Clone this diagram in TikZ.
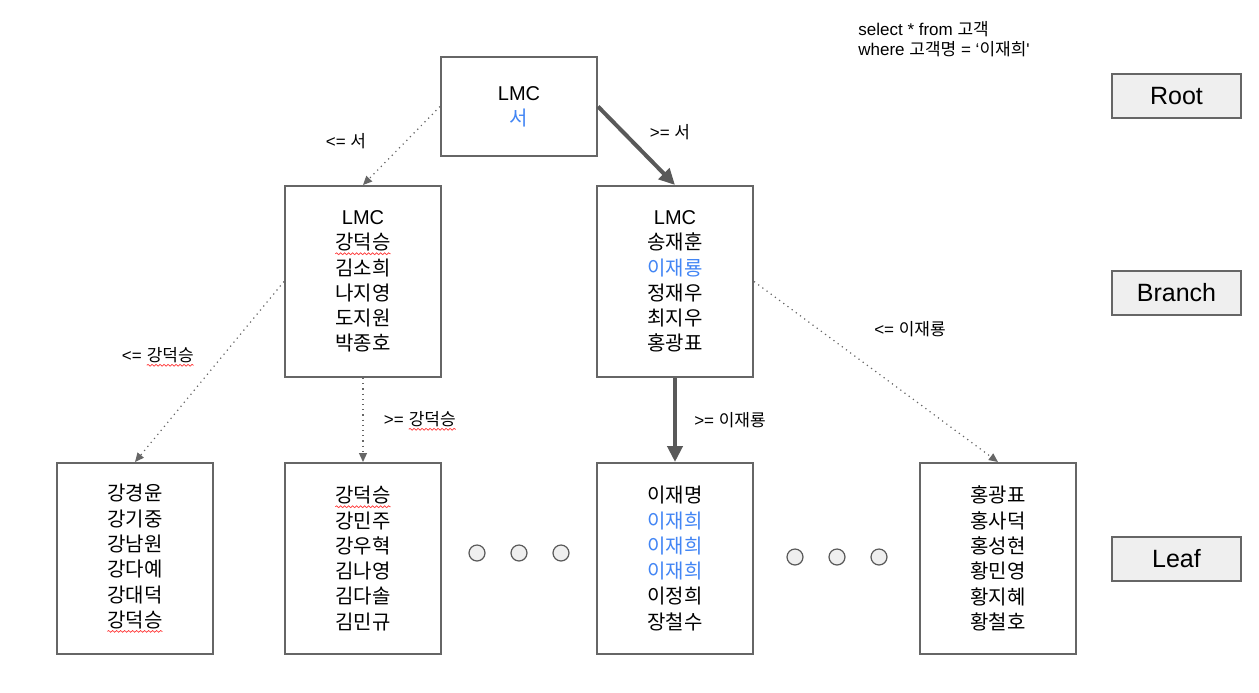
\documentclass[tikz,border=0pt]{standalone}
\usepackage{fontspec}
\setmainfont{Liberation Sans}
\newfontfamily\krfont{Noto Sans CJK KR}
\usetikzlibrary{arrows.meta, decorations.pathmorphing}

\definecolor{hitblue}{HTML}{4285F4}
\definecolor{edgegray}{HTML}{666666}
\definecolor{arrowgray}{HTML}{595959}
\definecolor{lvlfill}{HTML}{EFEFEF}

\newcommand{\ko}[1]{{\krfont #1}}
\newcommand{\hit}[1]{\textcolor{hitblue}{\ko{#1}}}
\newcommand{\typo}[1]{\tikz[baseline=(tw.base)]{%
  \node[rectangle, draw=none, fill=none, inner sep=0pt, outer sep=0pt,
        minimum width=0pt, minimum height=0pt] (tw) {\ko{#1}};
  \draw[red!80, line width=0.35pt, decorate,
        decoration={snake, amplitude=0.45pt, segment length=2pt}]
    ([yshift=-1.2pt]tw.south west) -- ([yshift=-1.2pt]tw.south east);}}

\begin{document}
\begin{tikzpicture}[
  x=0.5pt, y=-0.5pt,
  box/.style={draw=edgegray, line width=1pt, minimum width=78pt,
              minimum height=95.5pt, inner sep=0pt, align=center,
              font=\fontsize{10}{12.65}\selectfont},
  level/.style={draw=edgegray, line width=0.6pt, fill=lvlfill,
                minimum width=64.5pt, minimum height=22pt, inner sep=0pt,
                font=\fontsize{12.5}{15}\selectfont},
  lbl/.style={font=\fontsize{8.5}{10}\selectfont, inner sep=0pt},
  dot/.style={circle, draw=arrowgray, fill=lvlfill, line width=0.6pt,
              minimum size=8pt, inner sep=0pt},
  goarrow/.style={draw=arrowgray, line width=2pt,
                  -{Triangle[length=8pt, width=7.5pt]}},
  skiparrow/.style={draw=edgegray, dotted, line width=0.6pt,
                    -{Triangle[length=4.5pt, width=4pt]}}
]
  \useasboundingbox (0,0) rectangle (1259,692);

  % query
  \node[lbl, align=left, anchor=west] (query) at (858,39)
    {select * from \ko{고객}\\where \ko{고객명} = `\ko{이재희}\textquotesingle};

  % root
  \node[box, minimum height=49.5pt] (root) at (519,106.5) {LMC\\\hit{서}};

  % branch
  \node[box] (bl) at (363,281.5)
    {LMC\\\typo{강덕승}\\\ko{김소희}\\\ko{나지영}\\\ko{도지원}\\\ko{박종호}};
  \node[box] (br) at (675,281.5)
    {LMC\\\ko{송재훈}\\\hit{이재룡}\\\ko{정재우}\\\ko{최지우}\\\ko{홍광표}};

  % leaf
  \node[box] (leaf1) at (135,558.5)
    {\ko{강경윤}\\\ko{강기중}\\\ko{강남원}\\\ko{강다예}\\\ko{강대덕}\\\typo{강덕승}};
  \node[box] (leaf2) at (363,558.5)
    {\typo{강덕승}\\\ko{강민주}\\\ko{강우혁}\\\ko{김나영}\\\ko{김다솔}\\\ko{김민규}};
  \node[box] (leaf3) at (675,558.5)
    {\ko{이재명}\\\hit{이재희}\\\hit{이재희}\\\hit{이재희}\\\ko{이정희}\\\ko{장철수}};
  \node[box] (leaf4) at (998,558.5)
    {\ko{홍광표}\\\ko{홍사덕}\\\ko{홍성현}\\\ko{황민영}\\\ko{황지혜}\\\ko{황철호}};

  \foreach \x [count=\i] in {477,519,561}
    \node[dot] (dl\i) at (\x,553) {};
  \foreach \x [count=\i] in {795,837,879}
    \node[dot] (dr\i) at (\x,557) {};

  % levels
  \node[level] (lvroot)   at (1176.5,96)  {Root};
  \node[level] (lvbranch) at (1176.5,293) {Branch};
  \node[level] (lvleaf)   at (1176.5,559) {Leaf};

  % edges
  \draw[skiparrow] (root.west) -- (bl.north);
  \draw[goarrow]   (root.east) -- (br.north);
  \draw[skiparrow] (bl.west) -- (leaf1.north);
  \draw[skiparrow] (bl.south) -- (leaf2.north);
  \draw[goarrow]   (br.south) -- (leaf3.north);
  \draw[skiparrow] (br.east) -- (leaf4.north);

  \node[lbl] (e1) at (346,141) {<= \ko{서}};
  \node[lbl] (e2) at (670,132) {>= \ko{서}};
  \node[lbl] (e3) at (158,357) {<= \typo{강덕승}};
  \node[lbl] (e4) at (420,421) {>= \typo{강덕승}};
  \node[lbl] (e5) at (730,420) {>= \ko{이재룡}};
  \node[lbl] (e6) at (910,329) {<= \ko{이재룡}};
\end{tikzpicture}
\end{document}
